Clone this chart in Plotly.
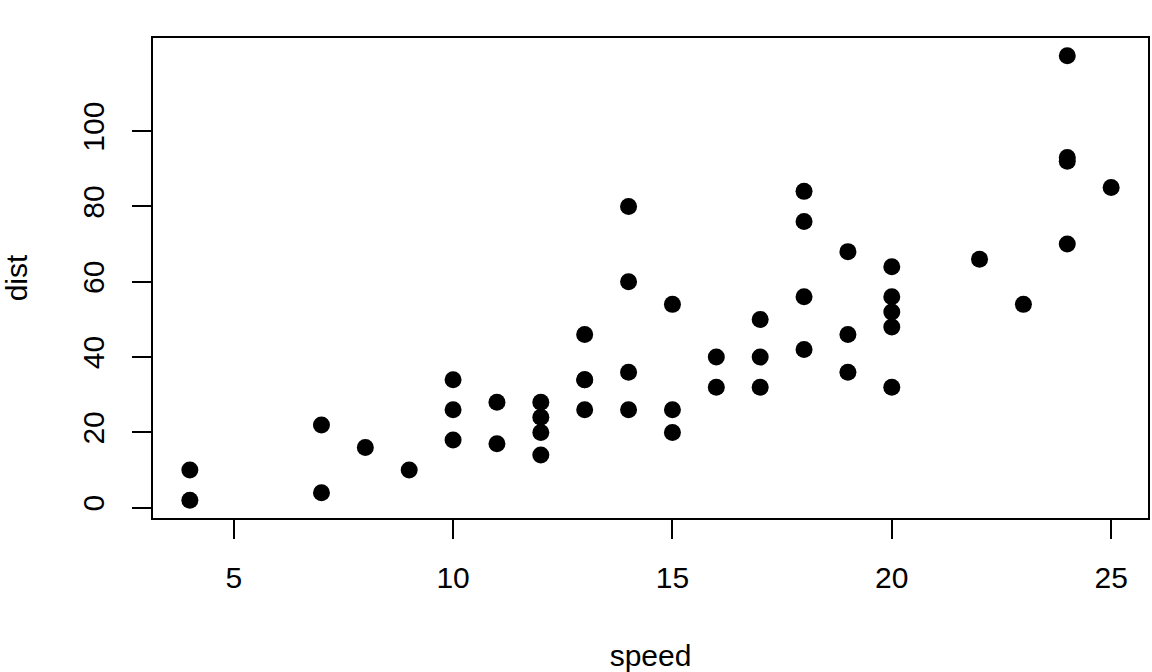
import plotly.graph_objects as go

speed = [4, 4, 7, 7, 8, 9, 10, 10, 10, 11, 11, 12, 12, 12, 12, 13, 13, 13, 13, 14,
         14, 14, 14, 15, 15, 15, 16, 16, 17, 17, 17, 18, 18, 18, 18, 19, 19, 19, 20, 20,
         20, 20, 20, 22, 23, 24, 24, 24, 24, 25]
dist = [2, 10, 4, 22, 16, 10, 18, 26, 34, 17, 28, 14, 20, 24, 28, 26, 34, 34, 46, 26,
        36, 60, 80, 20, 26, 54, 32, 40, 32, 40, 50, 42, 56, 76, 84, 36, 46, 68, 32, 48,
        52, 56, 64, 66, 54, 70, 92, 93, 120, 85]
x_ticks = [5, 10, 15, 20, 25]
y_ticks = [0, 20, 40, 60, 80, 100]

font = "Liberation Sans, Arial, Helvetica, sans-serif"
fs = 30

fig = go.Figure(go.Scatter(
    x=speed, y=dist, mode="markers",
    marker=dict(color="black", size=17, line=dict(width=0)),
))

xr = [min(speed) - 0.04 * (max(speed) - min(speed)), max(speed) + 0.04 * (max(speed) - min(speed))]
yr = [min(dist) - 0.04 * (max(dist) - min(dist)), max(dist) + 0.04 * (max(dist) - min(dist))]

axis_common = dict(
    showgrid=False, zeroline=False, showline=True, mirror=True,
    linecolor="black", linewidth=1.5, ticks="outside", ticklen=19,
    tickwidth=1.5, tickcolor="black", automargin=False,
    tickfont=dict(family=font, size=fs, color="black"),
)

fig.update_layout(
    width=1152, height=672,
    paper_bgcolor="white", plot_bgcolor="white",
    margin=dict(l=153, r=4, t=38, b=154),
    showlegend=False,
    font=dict(family=font, color="black"),
    xaxis=dict(range=xr, tickvals=x_ticks, ticklabelstandoff=13,
               title=dict(text="speed", font=dict(family=font, size=fs, color="black"), standoff=52),
               **axis_common),
    yaxis=dict(range=yr, tickvals=y_ticks, tickangle=-90, ticklabelstandoff=16,
               title=dict(text="dist", font=dict(family=font, size=fs, color="black"), standoff=50),
               **axis_common),
)

fig.write_html("out.html", config={"displayModeBar": False},
               post_script="document.body.style.margin='0';document.body.style.overflow='hidden';")
